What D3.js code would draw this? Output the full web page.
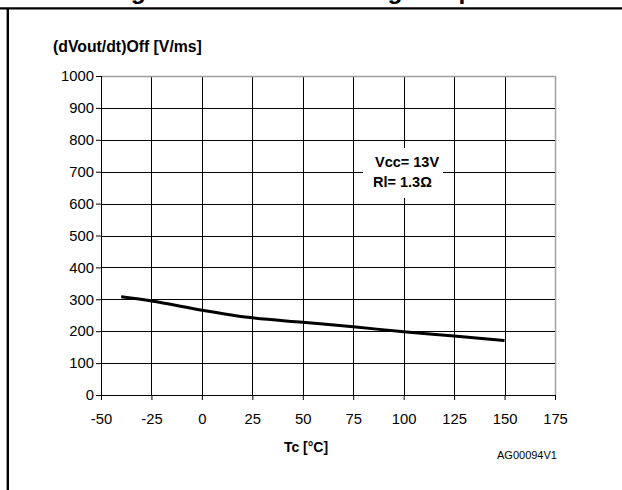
<!DOCTYPE html>
<html><head><meta charset="utf-8">
<script src="https://cdn.jsdelivr.net/npm/d3@7"></script>
<style>body{margin:0;background:#fff}svg{display:block}text{font-family:Arial,"Liberation Sans",sans-serif}</style>
</head><body>
<svg id="c" width="622" height="490"></svg>
<script>
const temps = [-40, -25, 0, 25, 50, 75, 100, 125, 150];
const slopes = [308, 295, 266, 242, 228, 214, 198, 185, 171];
const xTicks = [-50, -25, 0, 25, 50, 75, 100, 125, 150, 175];
const yTicks = [0, 100, 200, 300, 400, 500, 600, 700, 800, 900, 1000];
const yTitle = "(dVout/dt)Off [V/ms]";
const xTitle = "Tc [°C]";
const noteLines = ["Vcc= 13V", "Rl= 1.3Ω"];
const figCode = "AG00094V1";
const figTitle = "Figure 22. Turn-off voltage slope vs case temperature";

const svg = d3.select("#c");
const x = d3.scaleLinear().domain([-50, 175]).range([101, 555]);
const y = d3.scaleLinear().domain([0, 1000]).range([395, 76]);

// frame (title is cropped at the top edge in the reference)
svg.append("text").attr("x", 109).attr("y", -1).attr("font-size", 24.5).attr("font-weight", "bold").text(figTitle);
svg.append("line").attr("x1", 0).attr("x2", 622).attr("y1", 8.3).attr("y2", 8.3).attr("stroke", "#000").attr("stroke-width", 2.2);
svg.append("line").attr("x1", 7.8).attr("x2", 7.8).attr("y1", 8).attr("y2", 490).attr("stroke", "#000").attr("stroke-width", 2.4);

// grid
const g = svg.append("g");
g.selectAll(".vg").data(xTicks.slice(1)).join("line")
  .attr("x1", d => Math.round(x(d)) + 0.5).attr("x2", d => Math.round(x(d)) + 0.5)
  .attr("y1", y(1000)).attr("y2", y(0))
  .attr("stroke", d => d === 175 ? "#a0a0a0" : "#000").attr("stroke-width", d => d === 175 ? 1.5 : 1);
g.selectAll(".hg").data(yTicks.slice(1)).join("line")
  .attr("x1", x(-50)).attr("x2", x(175))
  .attr("y1", d => Math.round(y(d)) + 0.5).attr("y2", d => Math.round(y(d)) + 0.5)
  .attr("stroke", d => d === 1000 ? "#a0a0a0" : "#000").attr("stroke-width", d => d === 1000 ? 1.5 : 1);

// annotation box
svg.append("rect").attr("x", 363).attr("y", 148).attr("width", 80).attr("height", 50).attr("fill", "#fff");
svg.append("text").attr("x", 375).attr("y", 166.5).attr("font-size", 14.5).attr("font-weight", "bold").text(noteLines[0]);
svg.append("text").attr("x", 373).attr("y", 187).attr("font-size", 14.5).attr("font-weight", "bold").text(noteLines[1]);

// axes
const fmt = d => String(d);
const yAxis = svg.append("g").attr("transform", `translate(${x(-50)},0)`)
  .call(d3.axisLeft(y).tickValues(yTicks).tickSize(5).tickPadding(2).tickFormat(fmt));
const xAxis = svg.append("g").attr("transform", `translate(0,${y(0)})`)
  .call(d3.axisBottom(x).tickValues(xTicks).tickSize(5).tickPadding(13).tickFormat(fmt));
[yAxis, xAxis].forEach(a => {
  a.selectAll("text").attr("font-size", 14.8).attr("fill", "#000").style("font-family", "Arial, 'Liberation Sans', sans-serif");
  a.selectAll("line").attr("stroke", "#000");
  a.select(".domain").remove();
});
svg.append("line").attr("x1", x(-50) + 0.5).attr("x2", x(-50) + 0.5).attr("y1", y(1000)).attr("y2", y(0)).attr("stroke", "#000");
svg.append("line").attr("x1", x(-50)).attr("x2", x(175)).attr("y1", Math.round(y(0)) + 0.5).attr("y2", Math.round(y(0)) + 0.5).attr("stroke", "#000");

// data line
svg.append("path").datum(temps.map((t, i) => [t, slopes[i]]))
  .attr("d", d3.line().x(d => x(d[0])).y(d => y(d[1])).curve(d3.curveMonotoneX))
  .attr("fill", "none").attr("stroke", "#000").attr("stroke-width", 3);

// titles
svg.append("text").attr("x", 53).attr("y", 52).attr("font-size", 15.8).attr("font-weight", "bold").text(yTitle);
svg.append("text").attr("x", 306).attr("y", 452).attr("text-anchor", "middle").attr("font-size", 14).attr("font-weight", "bold").text(xTitle);
svg.append("text").attr("x", 497).attr("y", 459).attr("font-size", 11).text(figCode);
</script>
</body></html>
